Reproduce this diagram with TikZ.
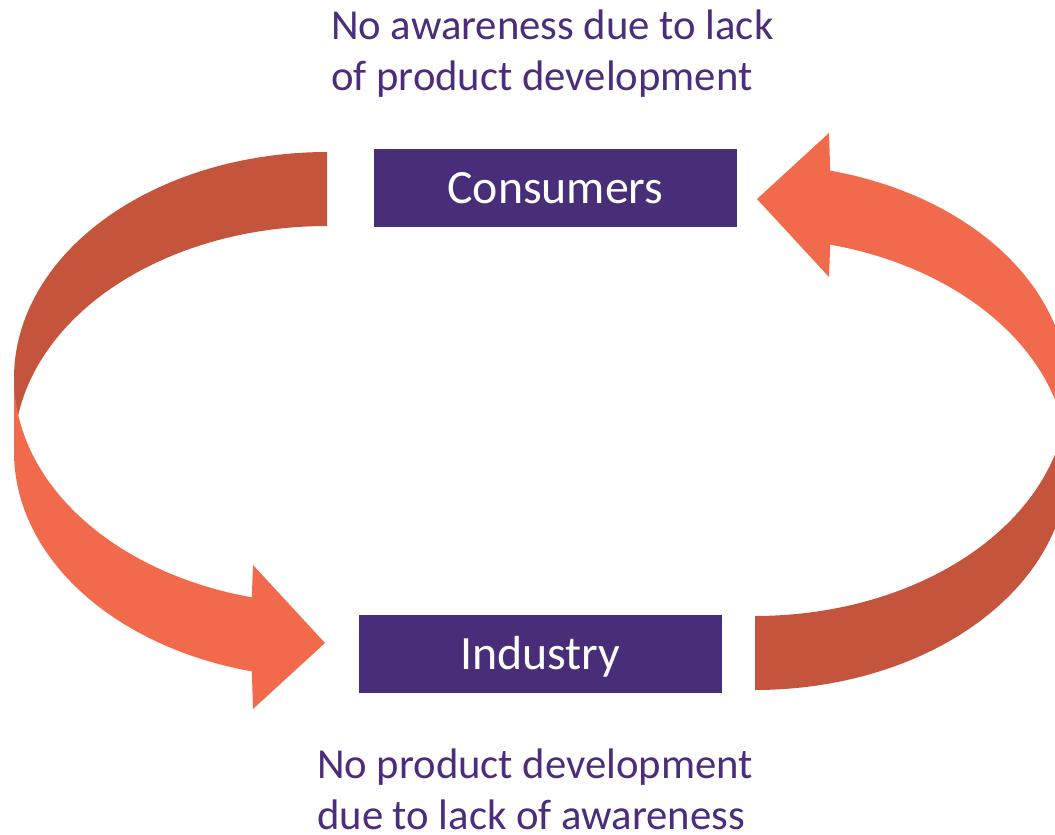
\documentclass[tikz,border=0pt]{standalone}
\usepackage{fontspec}
\setmainfont{Carlito}
\definecolor{boxpurple}{HTML}{482E78}
\definecolor{textpurple}{HTML}{4A2D7B}
\definecolor{arrowdark}{HTML}{C4553C}
\definecolor{arrowlight}{HTML}{F26A4C}
\begin{document}
\begin{tikzpicture}[x=1pt,y=-1pt,
  backpart/.style={fill=arrowdark},
  frontpart/.style={fill=arrowlight},
  labelbox/.style={fill=boxpurple, text=white, minimum width=363pt, minimum height=78pt,
    inner sep=0pt, font=\fontsize{47.8}{57}\selectfont, text height=40.3pt, text depth=10.1pt},
  caption/.style={text=textpurple, inner sep=0pt, anchor=base west,
    font=\fontsize{42.7}{51.5}\selectfont}]
\clip (0,0) rectangle (1055,835);
\fill[white] (0,0) rectangle (1055,835);

% curved arrow on the left (back part dark, front part light) and its 180-degree copy on the right
\foreach \rot in {0,180}{
\begin{scope}[rotate around={\rot:(541,421)}]
  \fill[backpart]
    plot[domain=270:180, samples=70, variable=\t] ({327+313*cos(\t)},{378+226*sin(\t)})
    -- plot[domain=180:270, samples=70, variable=\t] ({327+313*cos(\t)},{452+226*sin(\t)})
    -- cycle;
  \fill[frontpart]
    plot[domain=180:103.9, samples=70, variable=\t] ({327+313*cos(\t)},{452+226*sin(\t)})
    -- (253,709) -- (325,643) -- (253,565)
    -- plot[domain=103.9:180, samples=70, variable=\t] ({327+313*cos(\t)},{378+226*sin(\t)})
    -- cycle;
\end{scope}
}

\node[labelbox] (consumers) at (555.5,188) {Consumers};
\node[labelbox] (industry) at (540.5,654) {Industry};

\node[caption] (topnote) at (331,39)
  {\vtop{\hbox{No awareness due to lack}\hbox{of product development}}};
\node[caption] (bottomnote) at (317,778)
  {\vtop{\hbox{No product development}\hbox{due to lack of awareness}}};
\end{tikzpicture}
\end{document}
